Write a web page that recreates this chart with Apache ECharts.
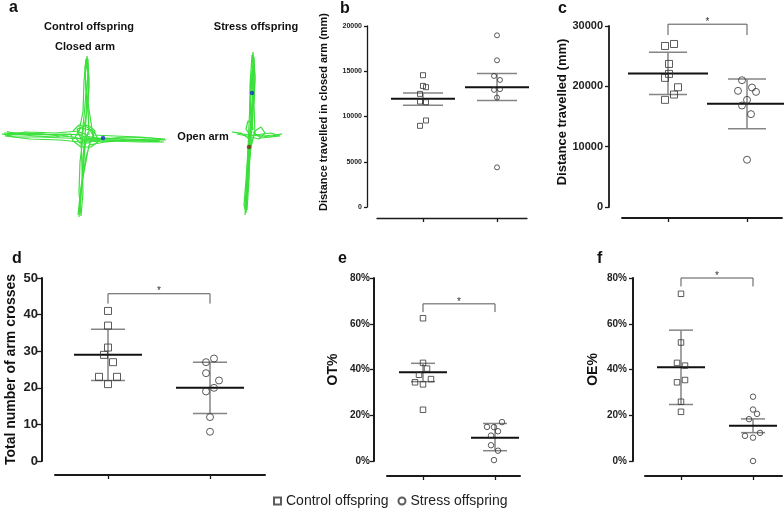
<!DOCTYPE html>
<html><head><meta charset="utf-8">
<script src="https://cdn.jsdelivr.net/npm/echarts@6/dist/echarts.min.js"></script>
<style>html,body{margin:0;padding:0;background:#fff}#c{width:784px;height:509px}</style>
</head><body><div id="c"></div>
<script>
// ================= DATA =================
const groups = ['Control offspring', 'Stress offspring'];

// b: Distance travelled in closed arm (mm)
const bControl = [14560, 13380, 13240, 12500, 11650, 11580, 9560, 8970];
const bStress  = [18970, 16210, 14480, 14040, 13010, 12940, 12090, 4380];
const bMean = [11950, 13240];
const bLow  = [11250, 11770];
const bHigh = [12610, 14740];

// c: Distance travelled (mm)
const cControl = [27020, 26690, 23710, 22060, 21400, 19850, 18640, 17760];
const cStress  = [21010, 19800, 19250, 19080, 17760, 16820, 15390, 7830];
const cMean = [22110, 17100];
const cLow  = [18640, 12960];
const cHigh = [25640, 21230];
const cBracket = [30300, 28500];

// d: Total number of arm crosses
const dControl = [41, 37, 31, 29, 27, 23, 23, 21];
const dStress  = [28, 27, 24, 22, 20, 19, 12, 8];
const dMean = [29, 20];
const dLow  = [22, 13];
const dHigh = [36, 27];
const dBracket = [45.7, 43.0];

// e: OT%
const eControl = [62.4, 42.9, 40.4, 37.7, 35.8, 34.4, 33.5, 22.4];
const eStress  = [17.0, 14.9, 14.8, 13.0, 11.1, 6.9, 4.5, 0.4];
const eMean = [38.8, 10.2];
const eLow  = [34.7, 4.5];
const eHigh = [42.7, 16.4];
const eBracket = [68.7, 65.1];

// f: OE%
const fControl = [73.1, 51.8, 42.9, 41.7, 35.4, 34.4, 25.9, 21.5];
const fStress  = [28.1, 22.5, 20.6, 18.3, 12.3, 11.0, 10.2, 0.0];
const fMean = [41.0, 15.4];
const fLow  = [24.7, 12.4];
const fHigh = [57.2, 18.4];
const fBracket = [80.0, 76.3];

// horizontal scatter of the dots (px offset from category centre)
const bControlJitter = [0, 0, 3, -3, -3, 3, 3, -3];
const bStressJitter  = [0, 0, -3, 3, 3, -3, 0, 0];
const cControlJitter = [6, -3, 1, 1, -3, 10, 6, -3];
const cStressJitter  = [-5, 5, -9, 9, 0, -5, 4, 0];
const dControlJitter = [0, 0, 0, -4, 5, -9, 9, 0];
const dStressJitter  = [4, -4, -4, 9, 4, -4, 0, 0];
const eControlJitter = [0, 0, 4, -4, 8, -8, 0, 0];
const eStressJitter  = [7, -8, -1, 3, -4, -4, 3, -1];
const fControlJitter = [0, 0, -4, 4, 4, -4, 0, 0];
const fStressJitter  = [0, 0, 4, -4, 7, -8, 0, 0];

// a: elevated plus maze tracks (maze units, centre of maze = 0,0)
const ctrlTracks = [
  [[0,0],[1,20],[2,45],[3,70],[2,81],[0,70],[1,45],[-1,20],[-3,3],[-20,2],[-45,3],[-70,2],[-83,3],[-70,0],[-45,0],[-20,-1],[0,-2],[20,-1],[45,-2],[65,-3],[81,-3],[65,-1],[40,0],[18,-2],[0,1],[-2,-20],[-3,-45],[-5,-65],[-6,-80],[-4,-60],[-2,-35],[0,-10],[3,5]],
  [[4,2],[3,30],[4,60],[1,78],[-1,55],[-2,25],[-6,6],[-30,4],[-60,5],[-80,1],[-55,-2],[-25,-3],[-5,-5],[25,-4],[55,-5],[79,-5],[50,-3],[20,-5],[4,-8],[-1,-35],[-5,-60],[-7,-78],[-4,-50],[1,-20],[6,-3],[10,6],[3,12],[-8,8],[-4,-2]],
  [[-12,6],[-6,12],[2,10],[10,4],[14,-4],[6,-10],[-4,-10],[-12,-4],[-14,3],[-30,0],[-50,1],[-81,4],[-60,4],[-35,2],[-12,0],[0,-3],[30,-2],[60,-4],[80,-2],[55,0],[30,1],[8,2],[2,40],[0,62],[3,78],[4,50],[2,25],[-4,-4],[-3,-30],[-2,-55],[-4,-79],[-6,-55],[-5,-25],[-2,0]],
  [[-8,4],[-4,9],[5,7],[9,0],[4,-6],[-5,-6],[-10,0],[-6,5],[0,3],[6,-2],[-2,-4]],
  [[-40,4],[-65,3],[-78,5],[-50,2],[-20,3],[-5,2],[2,-1],[30,-4],[60,-2],[75,-4],[50,-4],[20,-3],[1,-4]]
];
const stressTracks = [
  [[0,0],[1,25],[2,50],[3,70],[2,83],[0,65],[-1,40],[0,15],[-2,-5],[-3,-30],[-4,-55],[-6,-80],[-4,-60],[-2,-30],[0,-5],[-10,2],[-19,3],[-8,1],[0,0],[12,-1],[22,0],[31,1],[18,-2],[4,0],[3,30],[4,60],[1,80],[-1,50],[-1,20]],
  [[2,5],[-1,30],[1,55],[3,78],[4,55],[2,25],[1,5],[-3,-15],[-5,-45],[-7,-70],[-5,-78],[-3,-50],[-2,-20],[4,4],[10,8],[14,2],[8,-4],[0,-2],[-5,6],[-3,14],[2,12]],
  [[1,10],[3,40],[2,72],[0,50],[-2,10],[-4,-40],[-6,-72],[-3,-40],[1,-2],[-14,1],[-4,-1],[20,2],[29,-1],[10,-3],[2,3]],
  [[0,20],[2,45],[1,65],[3,50],[1,30],[-1,0],[-2,-25],[-5,-55],[-4,-75],[-2,-45],[-1,-15]]
];
const ctrlDotBlue = [[18, -1]];
const stressDotBlue = [[1, 42]];
const stressDotRed = [[-2, -12]];

// ================= LAYOUT / STYLE =================
const FONT = '"Liberation Sans", Arial, Helvetica, sans-serif';
const panels = [
  {ctrl:bControl, str:bStress, cj:bControlJitter, sj:bStressJitter, mean:bMean, lo:bLow, hi:bHigh, bracket:null,
   left:377,right:527,top:26,bottom:207,yAxisX:367,xAxisY:218,cat:[423,497],max:20000,interval:5000,pct:false,
   labelSize:7,labelMargin:5,tickLen:3,axisW:1.3,title:'Distance travelled in closed arm (mm)',titleSize:11,titleGap:38,titleShift:9,sym:5,meanHw:32,capHw:20},
  {ctrl:cControl, str:cStress, cj:cControlJitter, sj:cStressJitter, mean:cMean, lo:cLow, hi:cHigh, bracket:cBracket,
   left:622,right:782,top:26,bottom:207,yAxisX:609,xAxisY:218,cat:[668,747],max:30000,interval:10000,pct:false,
   labelSize:11,labelMargin:6,tickLen:4,axisW:1.8,title:'Distance travelled (mm)',titleSize:13,titleGap:39,titleShift:9,sym:7,meanHw:40,capHw:19},
  {ctrl:dControl, str:dStress, cj:dControlJitter, sj:dStressJitter, mean:dMean, lo:dLow, hi:dHigh, bracket:dBracket,
   left:55,right:265,top:278,bottom:461,yAxisX:42,xAxisY:475,cat:[108,210],max:50,interval:10,pct:false,
   labelSize:13,labelMargin:4,tickLen:5,axisW:2,title:'Total number of arm crosses',titleSize:14,titleGap:24,titleShift:0,sym:7,meanHw:34,capHw:17},
  {ctrl:eControl, str:eStress, cj:eControlJitter, sj:eStressJitter, mean:eMean, lo:eLow, hi:eHigh, bracket:eBracket,
   left:387,right:520,top:278,bottom:461,yAxisX:374,xAxisY:476,cat:[423,495],max:80,interval:20,pct:true,
   labelSize:10,labelMargin:4,tickLen:4,axisW:2,title:'OT%',titleSize:14,titleGap:34,titleShift:0,sym:5.5,meanHw:24,capHw:12},
  {ctrl:fControl, str:fStress, cj:fControlJitter, sj:fStressJitter, mean:fMean, lo:fLow, hi:fHigh, bracket:fBracket,
   left:645,right:782,top:278,bottom:461,yAxisX:633,xAxisY:476,cat:[681,753],max:80,interval:20,pct:true,
   labelSize:10,labelMargin:6,tickLen:4,axisW:2,title:'OE%',titleSize:14,titleGap:33,titleShift:0,sym:5.5,meanHw:24,capHw:12}
];

function errRender(meanHw, capHw) {
  return function (params, api) {
    const x = api.value(0);
    const pm = api.coord([x, api.value(1)]);
    const pl = api.coord([x, api.value(2)]);
    const ph = api.coord([x, api.value(3)]);
    const es = {stroke:'#858585', lineWidth:1.5};
    return {type:'group', children:[
      {type:'line', shape:{x1:pl[0],y1:pl[1],x2:ph[0],y2:ph[1]}, style:es},
      {type:'line', shape:{x1:pl[0]-capHw,y1:pl[1],x2:pl[0]+capHw,y2:pl[1]}, style:es},
      {type:'line', shape:{x1:ph[0]-capHw,y1:ph[1],x2:ph[0]+capHw,y2:ph[1]}, style:es},
      {type:'line', shape:{x1:pm[0]-meanHw,y1:pm[1],x2:pm[0]+meanHw,y2:pm[1]}, style:{stroke:'#111',lineWidth:2}}
    ]};
  };
}
function bracketRender(params, api) {
  const a = api.coord([api.value(0), api.value(2)]);
  const b = api.coord([api.value(1), api.value(2)]);
  const a2 = api.coord([api.value(0), api.value(3)]);
  const b2 = api.coord([api.value(1), api.value(3)]);
  return {type:'group', children:[
    {type:'polyline', shape:{points:[a2, a, b, b2]}, style:{stroke:'#555', lineWidth:1, fill:null}},
    {type:'text', style:{text:'*', x:(a[0]+b[0])/2, y:a[1]-2, align:'center', verticalAlign:'middle',
      font:'10px ' + FONT, fill:'#333'}}
  ]};
}

const grids = [], xAxes = [], yAxes = [], series = [];
const axisColor = '#1a1a1a';
panels.forEach((p) => {
  const sp = p.cat[1] - p.cat[0];
  // data grid: y axis sits on its left edge
  const gi = grids.length;
  grids.push({left:p.yAxisX, top:p.top, width:p.right - p.yAxisX, height:p.bottom - p.top});
  xAxes.push({gridIndex:gi, type:'value', show:false,
    min:1 - (p.cat[0] - p.yAxisX) / sp, max:2 + (p.right - p.cat[1]) / sp});
  yAxes.push({gridIndex:gi, type:'value', min:0, max:p.max, interval:p.interval,
    name:p.title, nameLocation:'middle', nameRotate:90, nameGap:p.titleGap,
    nameTextStyle:{fontFamily:FONT, fontWeight:'bold', fontSize:p.titleSize, color:'#111', padding:[0,0,0,p.titleShift]},
    axisLine:{show:true, onZero:false, lineStyle:{color:axisColor, width:p.axisW}},
    axisTick:{show:true, length:p.tickLen, lineStyle:{color:axisColor, width:1.3}},
    axisLabel:{fontFamily:FONT, fontWeight:'bold', fontSize:p.labelSize, color:'#222', margin:p.labelMargin,
      formatter: (v) => p.pct ? (v + '%') : String(v)},
    splitLine:{show:false}});
  series.push({type:'custom', xAxisIndex:gi, yAxisIndex:gi, z:2, silent:true,
    renderItem:errRender(p.meanHw, p.capHw), encode:{x:0, y:[1,2,3]},
    data:[[1, p.mean[0], p.lo[0], p.hi[0]], [2, p.mean[1], p.lo[1], p.hi[1]]]});
  series.push({type:'scatter', name:groups[0], xAxisIndex:gi, yAxisIndex:gi, z:3, symbol:'rect', symbolSize:p.sym,
    itemStyle:{color:'rgba(255,255,255,0)', borderColor:'#333', borderWidth:1},
    data:p.ctrl.map((v, k) => [1 + p.cj[k] / sp, v])});
  series.push({type:'scatter', name:groups[1], xAxisIndex:gi, yAxisIndex:gi, z:3, symbol:'circle', symbolSize:p.sym,
    itemStyle:{color:'rgba(255,255,255,0)', borderColor:'#333', borderWidth:1},
    data:p.str.map((v, k) => [2 + p.sj[k] / sp, v])});
  if (p.bracket) {
    series.push({type:'custom', xAxisIndex:gi, yAxisIndex:gi, z:2, silent:true, renderItem:bracketRender,
      encode:{x:[0,1], y:[2,3]}, data:[[1, 2, p.bracket[0], p.bracket[1]]]});
  }
  // detached category baseline (Prism style)
  const bi = grids.length;
  grids.push({left:p.left, top:p.xAxisY - 1, width:p.right - p.left, height:1});
  xAxes.push({gridIndex:bi, type:'value', min:1 - (p.cat[0] - p.left) / sp, max:2 + (p.right - p.cat[1]) / sp,
    axisLine:{show:true, onZero:false, lineStyle:{color:axisColor, width:p.axisW}},
    axisTick:{show:true, customValues:[1, 2], length:4, lineStyle:{color:axisColor, width:1.3}},
    axisLabel:{show:false}, splitLine:{show:false}});
  yAxes.push({gridIndex:bi, type:'value', show:false});
});

// Panel a maze grids
const mazes = [
  {cx:85, cy:137, tracks:ctrlTracks, dots:[[ctrlDotBlue, '#1a2fd0']]},
  {cx:251, cy:135, tracks:stressTracks, dots:[[stressDotBlue, '#1a2fd0'], [stressDotRed, '#7a2a1a']]}
];
const R = 85;
mazes.forEach((m) => {
  const gi = grids.length;
  grids.push({left:m.cx - R, top:m.cy - R, width:2 * R, height:2 * R});
  xAxes.push({gridIndex:gi, type:'value', min:-R, max:R, show:false});
  yAxes.push({gridIndex:gi, type:'value', min:-R, max:R, show:false});
  m.tracks.forEach((t) => {
    series.push({type:'line', xAxisIndex:gi, yAxisIndex:gi, data:t, showSymbol:false, silent:true, clip:false,
      lineStyle:{color:'#3be03b', width:1.2}, z:1});
  });
  m.dots.forEach(([d, col]) => {
    series.push({type:'scatter', xAxisIndex:gi, yAxisIndex:gi, data:d, symbol:'circle', symbolSize:4.5, silent:true,
      itemStyle:{color:col}, z:4});
  });
});

function txt(text, x, y, size, align, weight) {
  return {type:'text', x:x, y:y, silent:true,
    style:{text:text, font:(weight || 'bold') + ' ' + size + 'px ' + FONT, fill:'#111', align:align || 'center', verticalAlign:'middle'}};
}
const graphics = [
  txt('a', 9, 8, 16, 'left'), txt('b', 340, 9, 16, 'left'), txt('c', 558, 9, 16, 'left'),
  txt('d', 12, 259, 16, 'left'), txt('e', 338, 259, 16, 'left'), txt('f', 597, 259, 16, 'left'),
  txt('Control offspring', 89, 27, 11), txt('Closed arm', 85, 47, 11),
  txt('Stress offspring', 256, 27, 11), txt('Open arm', 203, 137, 11)
];

const chart = echarts.init(document.getElementById('c'), null, {renderer:'canvas'});
chart.setOption({
  animation:false,
  backgroundColor:'#fff',
  grid:grids, xAxis:xAxes, yAxis:yAxes, series:series,
  legend:{data:groups, left:273, top:494, itemWidth:7, itemHeight:7, itemGap:9, padding:0, selectedMode:false,
    textStyle:{fontFamily:FONT, fontSize:14, color:'#222'}},
  graphic:graphics
});
</script></body></html>
